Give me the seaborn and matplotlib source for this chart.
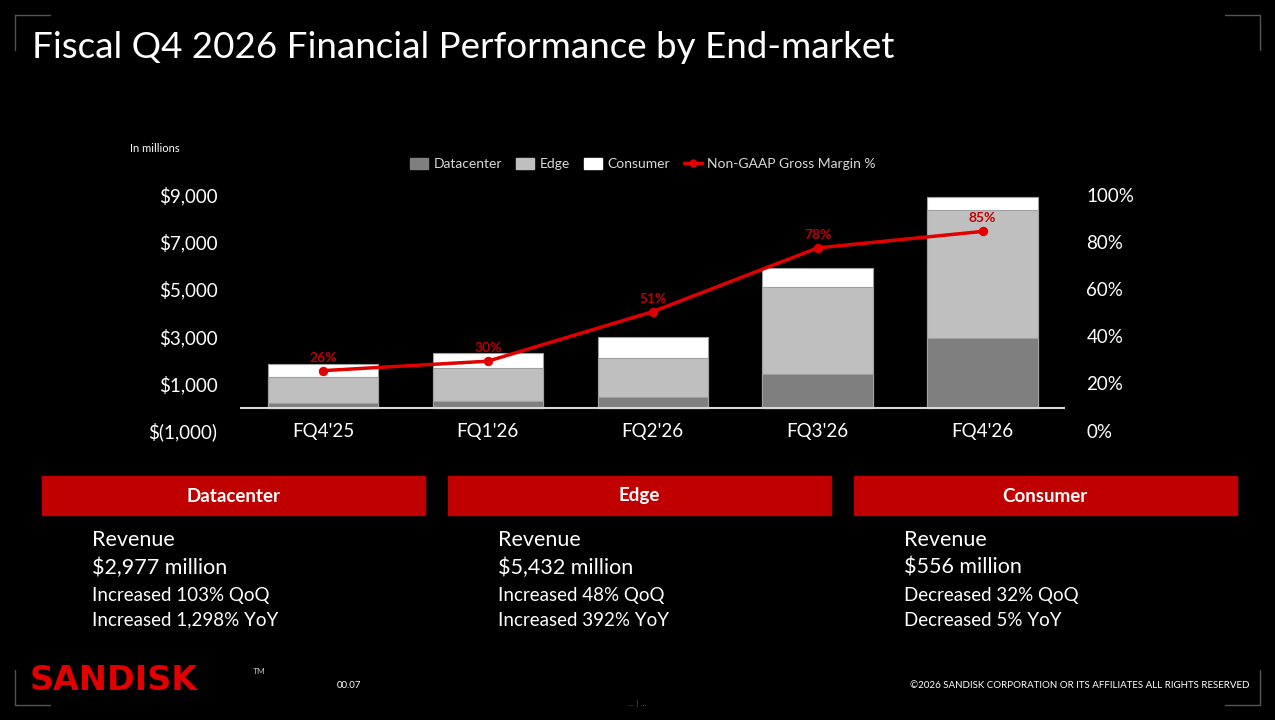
import numpy as np
import pandas as pd
import seaborn as sns
import matplotlib.pyplot as plt
from matplotlib.patches import Patch
from matplotlib.lines import Line2D

quarters = ["FQ4'25", "FQ1'26", "FQ2'26", "FQ3'26", "FQ4'26"]
datacenter = [213, 300, 470, 1467, 2977]
edge = [1104, 1400, 1660, 3670, 5432]
consumer = [585, 640, 890, 818, 556]
margin = [26, 30, 51, 78, 85]

panels = ["Datacenter", "Edge", "Consumer"]
panel_lines = [
    ["$2,977 million", "Increased 103% QoQ", "Increased 1,298% YoY"],
    ["$5,432 million", "Increased 48% QoQ", "Increased 392% YoY"],
    ["$556 million", "Decreased 32% QoQ", "Decreased 5% YoY"],
]

sns.set_style("dark")
plt.rcParams['font.family'] = ['Lato', 'DejaVu Sans']
RED = '#C00000'

df = pd.DataFrame({'q': quarters, 'dc': datacenter, 'edge': edge, 'cons': consumer, 'gm': margin})
df['de'] = df['dc'] + df['edge']
df['tot'] = df['de'] + df['cons']

fig = plt.figure(figsize=(12.75, 7.2), dpi=100, facecolor='black')
ax = fig.add_axes([240/1275, 1-432/720, 825/1275, 236/720])
ax.set_facecolor('black')
# stacked bars drawn as overlapping cumulative totals
sns.barplot(data=df, x='q', y='tot', color='white', width=0.67, saturation=1, ax=ax)
sns.barplot(data=df, x='q', y='de', color='#BFBFBF', width=0.67, saturation=1, ax=ax)
sns.barplot(data=df, x='q', y='dc', color='#7F7F7F', width=0.67, saturation=1, ax=ax)
for p in ax.patches:
    p.set_edgecolor('#A0A0A0')
    p.set_linewidth(0.8)
ax.set_xlim(-0.503, 4.5)
ax.set_ylim(-1000, 9000)
ax.axhline(0, color='#D9D9D9', lw=1.5)
for s in ax.spines.values():
    s.set_visible(False)
ax.set_xlabel('')
ax.set_ylabel('')
ax.set_xticks([])
ax.set_yticks([])
ax.grid(False)
for v in [9000, 7000, 5000, 3000, 1000, -1000]:
    lab = f"${v:,}" if v > 0 else "$(1,000)"
    ax.text(-0.64, v, lab, color='white', fontsize=13.5, ha='right', va='center')
for i, q in enumerate(quarters):
    ax.text(i, -1000, q, color='white', fontsize=13.5, ha='center', va='center')

ax2 = ax.twinx()
sns.lineplot(data=df, x='q', y='gm', color='#E00000', lw=2.5, marker='o', markersize=6,
             markeredgecolor='#E00000', ax=ax2, legend=False)
ax2.set_ylim(0, 100)
ax2.set_xlim(-0.503, 4.5)
ax2.set_yticks([])
ax2.set_ylabel('')
ax2.grid(False)
for s in ax2.spines.values():
    s.set_visible(False)
for i, m in enumerate(margin):
    ax2.text(i, m + 5.5, f"{m}%", color=RED, fontsize=10, fontweight='bold', ha='center', va='center')
for v in range(0, 101, 20):
    ax2.text(4.63, v, f"{v}%", color='white', fontsize=13.5, ha='left', va='center')

handles = [Patch(color='#7F7F7F'), Patch(color='#BFBFBF'), Patch(color='white'),
           Line2D([], [], color='#E00000', lw=2.5, marker='o', markersize=5)]
fig.legend(handles, ['Datacenter', 'Edge', 'Consumer', 'Non-GAAP Gross Margin %'],
           loc='center', bbox_to_anchor=(643/1275, 1-164/720), ncol=4, frameon=False,
           labelcolor='#D9D9D9', fontsize=10, handlelength=1.3, handleheight=0.8,
           columnspacing=1.0, handletextpad=0.4)

fig.text(130/1275, 1-149/720, 'In millions', color='white', fontsize=8, va='center')
fig.text(32/1275, 1-48/720, 'Fiscal Q4 2026 Financial Performance by End-market',
         color='white', fontsize=26.5, va='center')

# bottom panels
for k, name in enumerate(panels):
    x0 = (42 + k*406)
    fig.patches.append(plt.Rectangle((x0/1275, 1-515/720), 383/1275, 39/720,
                                     transform=fig.transFigure, color=RED))
    fig.text((x0 + 191)/1275, 1-496/720, name, color='white', fontsize=13.5,
             fontweight='bold', ha='center', va='center')
    tx = (x0 + 50)/1275
    fig.text(tx, 1-540/720, 'Revenue', color='white', fontsize=15.5, va='center')
    fig.text(tx, 1-568/720, panel_lines[k][0], color='white', fontsize=15.5, va='center')
    fig.text(tx, 1-595/720, panel_lines[k][1], color='white', fontsize=13.5, va='center')
    fig.text(tx, 1-620/720, panel_lines[k][2], color='white', fontsize=13.5, va='center')

# footer
fig.text(30/1275, 1-680/720, 'SANDISK', color='#E00000', fontsize=24, fontweight='bold',
         va='center', family='DejaVu Sans')
fig.text(253/1275, 1-672/720, 'TM', color='#BFBFBF', fontsize=6, va='center')
fig.text(337/1275, 1-686/720, '00.07', color='white', fontsize=7, va='center')
fig.text(1250/1275, 1-686/720, '\u00a92026 SANDISK CORPORATION OR ITS AFFILIATES ALL RIGHTS RESERVED',
         color='white', fontsize=7, ha='right', va='center')
fig.text(637/1275, 1-703/720, '... | ...', color='#555555', fontsize=6, ha='center', va='center')

# corner brackets
c = '#555555'
for xs, ys in [([15, 15, 50], [50, 15, 15]), ([1225, 1260, 1260], [15, 15, 50]),
               ([15, 15, 50], [670, 705, 705]), ([1225, 1260, 1260], [705, 705, 670])]:
    fig.add_artist(Line2D([x/1275 for x in xs], [1-y/720 for y in ys], color=c, lw=1))

fig.savefig('out.png', dpi=100, facecolor='black')
